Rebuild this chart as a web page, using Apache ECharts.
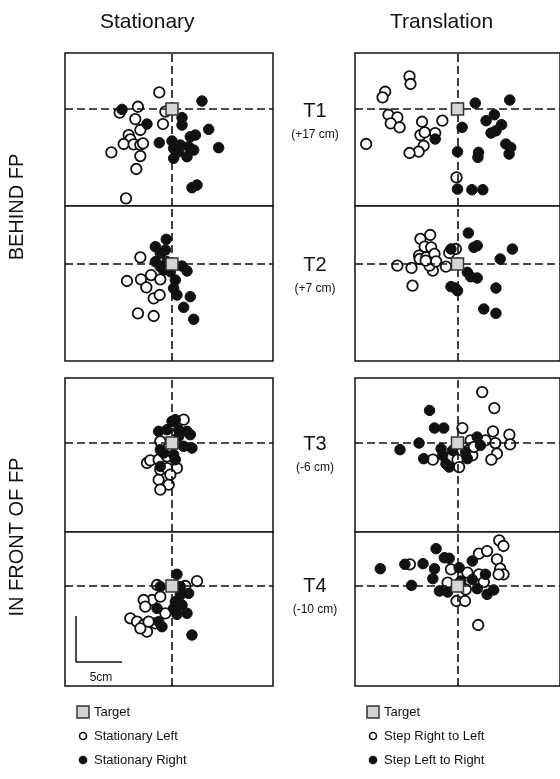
<!DOCTYPE html>
<html>
<head>
<meta charset="utf-8">
<script src="https://cdn.jsdelivr.net/npm/echarts@6/dist/echarts.min.js"></script>
<style>
  html, body { margin: 0; padding: 0; background: #fff; }
  #chart { width: 560px; height: 779px; }
</style>
</head>
<body>
<div id="chart"></div>
<script>
// endpoint positions in cm, relative to the target (x: right, y: further away)
const rowLabels = ['T1', 'T2', 'T3', 'T4']
const rowDistances = ['(+17 cm)', '(+7 cm)', '(-6 cm)', '(-10 cm)']

const t1StationaryLeft = [[-1.38,1.81],[-3.70,0.25],[-5.69,-0.40],[-3.99,-1.09],[-3.44,-2.28],[-0.98,-1.63],[-4.71,-2.83],[-4.53,-3.30],[-5.25,-3.80],[-4.17,-3.84],[-3.44,-3.91],[-3.15,-3.73],[-6.59,-4.71],[-3.44,-5.11],[-3.88,-6.52],[-5.00,-9.71],[-0.72,-0.29]]
const t1StationaryRight = [[-5.43,-0.04],[3.26,0.87],[-2.72,-1.63],[1.09,-0.94],[1.09,-1.74],[3.99,-2.21],[-1.38,-3.66],[0.00,-3.48],[1.99,-3.01],[2.54,-2.83],[0.18,-4.28],[0.91,-3.91],[1.81,-4.09],[2.36,-4.46],[5.07,-4.20],[0.18,-5.36],[1.63,-5.18],[2.17,-8.55],[2.72,-8.26],[0.72,-4.64]]
const t2StationaryLeft = [[-3.44,0.72],[-4.89,-1.85],[-3.37,-1.67],[-2.79,-2.54],[-2.28,-1.20],[-1.27,-1.67],[-1.99,-3.73],[-1.34,-3.37],[-3.70,-5.36],[-1.99,-5.65]]
const t2StationaryRight = [[-0.62,2.68],[-1.81,1.88],[-1.27,1.16],[-0.72,1.52],[-1.81,0.25],[-1.27,-0.29],[-0.54,0.25],[1.09,-0.22],[1.63,-0.76],[0.36,-1.74],[0.18,-2.64],[0.54,-3.37],[1.99,-3.55],[1.27,-4.71],[2.36,-6.01],[-0.18,-0.83],[-0.91,-0.65]]
const t3StationaryLeft = [[1.27,2.54],[-1.27,0.18],[-2.72,-2.17],[-2.36,-1.88],[-1.45,-1.81],[-0.54,-1.45],[0.54,-2.72],[-1.27,-2.90],[-0.54,-2.72],[-1.45,-3.99],[-0.36,-4.53],[-1.27,-5.07],[-0.18,-3.44]]
const t3StationaryRight = [[0.00,2.36],[0.36,2.54],[-1.45,1.27],[-0.54,1.45],[0.72,1.45],[1.63,1.27],[1.99,0.91],[2.17,-0.54],[1.27,-0.36],[-1.27,-0.72],[-0.91,-1.09],[0.18,-1.27],[-1.27,-2.54],[0.36,-1.81],[0.72,0.72]]
const t4StationaryLeft = [[2.72,0.54],[-1.63,0.11],[1.45,0.00],[-2.17,-1.52],[-3.08,-1.52],[-2.90,-2.25],[-1.27,-1.16],[-4.53,-3.51],[-3.80,-3.88],[-3.08,-4.24],[-2.72,-4.96],[-1.81,-4.06],[-0.72,-2.97],[-3.44,-4.60],[-2.54,-3.88]]
const t4StationaryRight = [[0.54,1.27],[-1.27,-0.07],[0.91,-0.07],[1.81,-0.80],[0.91,-0.98],[0.36,-1.70],[1.09,-2.07],[1.63,-2.97],[0.54,-3.08],[-1.63,-2.43],[-1.09,-4.42],[-1.45,-3.88],[2.17,-5.33],[0.18,-2.43]]

const t1StepRightToLeft = [[-5.29,3.55],[-5.18,2.72],[-7.97,1.88],[-8.26,1.27],[-7.61,-0.62],[-6.63,-0.91],[-7.36,-1.56],[-6.38,-1.99],[-3.91,-1.38],[-1.67,-1.27],[-4.09,-2.83],[-2.46,-2.61],[-3.62,-2.54],[-3.73,-3.99],[-4.28,-4.64],[-5.29,-4.78],[-10.07,-3.80],[-0.11,-7.43]]
const t1StepLeftToRight = [[1.96,0.65],[5.76,0.98],[0.51,-1.99],[3.15,-1.27],[4.06,-0.62],[4.86,-1.70],[3.70,-2.61],[4.24,-2.36],[-2.46,-3.26],[5.33,-3.80],[5.87,-4.17],[5.69,-4.89],[2.32,-4.71],[2.25,-5.25],[0.00,-4.64],[0.00,-8.70],[1.59,-8.77],[2.79,-8.77]]
const t2StepRightToLeft = [[-3.01,3.15],[-4.09,2.72],[-3.62,1.88],[-2.90,1.81],[-4.24,0.91],[-4.17,0.54],[-3.44,0.72],[-2.54,1.09],[-3.08,0.18],[-2.72,-0.72],[-3.08,-0.18],[-0.91,1.20],[-0.18,1.63],[-1.27,-0.29],[-5.07,-0.43],[-6.63,-0.18],[-4.96,-2.36],[-2.36,0.29],[-3.51,0.36]]
const t2StepLeftToRight = [[1.20,3.37],[1.81,1.81],[2.17,1.99],[6.05,1.63],[4.71,0.54],[-0.72,1.63],[1.09,-0.91],[1.45,-1.38],[2.17,-1.52],[4.24,-2.61],[-0.72,-2.46],[0.00,-2.90],[-0.25,-2.61],[2.90,-4.89],[4.24,-5.36]]
const t3StepRightToLeft = [[2.72,5.54],[4.06,3.80],[0.54,1.63],[3.91,1.27],[5.72,0.91],[5.80,-0.14],[4.17,0.00],[4.35,-1.16],[3.73,-1.81],[3.08,0.29],[1.45,0.29],[1.20,-0.80],[1.63,-1.34],[-2.72,-1.81],[-0.72,-1.59],[0.00,-1.81],[0.18,-2.61],[1.81,-0.43]]
const t3StepLeftToRight = [[-3.08,3.55],[-2.54,1.63],[-1.52,1.63],[-6.34,-0.72],[-4.24,0.00],[-3.73,-1.70],[-1.81,-0.62],[-1.63,-1.34],[-1.27,-2.25],[-0.91,-2.61],[2.17,0.65],[2.54,-0.25],[0.91,-0.98],[1.09,-1.70],[-0.54,-0.80]]
const t4StepRightToLeft = [[4.60,4.96],[5.07,4.35],[2.36,3.51],[3.26,3.80],[4.35,2.90],[4.71,1.88],[5.07,1.27],[4.53,1.27],[2.36,1.27],[1.09,1.45],[-0.72,1.81],[-5.25,2.36],[-1.09,0.36],[2.90,0.43],[0.91,-0.36],[-0.11,-1.63],[0.83,-1.63],[2.28,-4.24]]
const t4StepLeftToRight = [[-8.51,1.88],[-5.80,2.36],[-3.80,2.43],[-2.36,4.06],[-1.45,3.08],[-0.91,3.01],[-2.54,1.88],[-2.72,0.80],[-5.07,0.07],[0.18,1.99],[1.63,2.72],[1.63,0.72],[3.08,1.27],[-1.99,-0.54],[-1.09,-0.65],[3.26,-0.91],[3.99,-0.43],[0.36,0.54],[2.17,-0.29]]

const target = [[0, 0]]
const scaleBar = [[-10.43, -3.26], [-10.43, -8.26], [-5.43, -8.26]]

const openSets = [t1StationaryLeft, t2StationaryLeft, t3StationaryLeft, t4StationaryLeft,
  t1StepRightToLeft, t2StepRightToLeft, t3StepRightToLeft, t4StepRightToLeft]
const filledSets = [t1StationaryRight, t2StationaryRight, t3StationaryRight, t4StationaryRight,
  t1StepLeftToRight, t2StepLeftToRight, t3StepLeftToRight, t4StepLeftToRight]

// layout (px) and axis ranges (cm, 9.2 px per cm)
const colLeft = [65, 355]
const colX = [[-11.63, 10.98], [-11.3, 11.3]]
const rowTop = [53, 206, 378, 532]
const rowHeight = [153, 155, 154, 154]
const rowY = [[-10.54, 6.09], [-10.54, 6.3], [-9.67, 7.07], [-10.87, 5.87]]

const FONT = '"Liberation Sans", Arial, Helvetica, sans-serif'

const grids = [], xAxes = [], yAxes = [], series = []
for (let c = 0; c < 2; c++) {
  for (let r = 0; r < 4; r++) {
    const i = c * 4 + r
    grids.push({
      left: colLeft[c], top: rowTop[r], width: 208, height: rowHeight[r],
      show: true, borderColor: '#111', borderWidth: 1.5, backgroundColor: '#fff'
    })
    xAxes.push({ gridIndex: i, type: 'value', min: colX[c][0], max: colX[c][1], show: false })
    yAxes.push({ gridIndex: i, type: 'value', min: rowY[r][0], max: rowY[r][1], show: false })

    // dashed crosshair through the target
    series.push({
      type: 'line', xAxisIndex: i, yAxisIndex: i, data: [], z: 1, silent: true,
      markLine: {
        silent: true, symbol: ['none', 'none'], animation: false,
        label: { show: false },
        lineStyle: { color: '#111', width: 1.6, type: [8, 4] },
        data: [{ xAxis: 0 }, { yAxis: 0 }]
      }
    })
    series.push({
      type: 'scatter', xAxisIndex: i, yAxisIndex: i, z: 3,
      data: openSets[i], symbol: 'circle', symbolSize: 10.5,
      itemStyle: { color: '#fff', borderColor: '#111', borderWidth: 1.8, opacity: 1 }
    })
    series.push({
      type: 'scatter', xAxisIndex: i, yAxisIndex: i, z: 4,
      data: filledSets[i], symbol: 'circle', symbolSize: 10.5,
      itemStyle: { color: '#111', borderColor: '#111', borderWidth: 1, opacity: 1 }
    })
    series.push({
      type: 'scatter', xAxisIndex: i, yAxisIndex: i, z: 5,
      data: target, symbol: 'rect', symbolSize: 12,
      itemStyle: { color: '#d4d4d4', borderColor: '#333', borderWidth: 1.5, opacity: 1 }
    })
  }
}

// 5 cm scale bar in the T4 stationary panel
series.push({
  type: 'line', xAxisIndex: 3, yAxisIndex: 3, data: scaleBar, z: 6,
  symbol: 'none', lineStyle: { color: '#111', width: 1.5 }, silent: true
})

const graphics = [
  { type: 'text', left: 100, top: 12, style: { text: 'Stationary', font: '21px ' + FONT, fill: '#111' } },
  { type: 'text', left: 390, top: 12, style: { text: 'Translation', font: '21px ' + FONT, fill: '#111' } },
  { type: 'text', x: 17, y: 207, rotation: Math.PI / 2,
    style: { text: 'BEHIND FP', font: '20px ' + FONT, fill: '#111', align: 'center', verticalAlign: 'middle' } },
  { type: 'text', x: 17, y: 537, rotation: Math.PI / 2,
    style: { text: 'IN FRONT OF FP', font: '20px ' + FONT, fill: '#111', align: 'center', verticalAlign: 'middle' } },
  { type: 'text', x: 101, y: 678,
    style: { text: '5cm', font: '12px ' + FONT, fill: '#111', align: 'center', verticalAlign: 'middle' } }
]

const labelY = [111, 265, 444, 586]
rowLabels.forEach((t, r) => {
  graphics.push({ type: 'text', x: 315, y: labelY[r],
    style: { text: t, font: '20px ' + FONT, fill: '#111', align: 'center', verticalAlign: 'middle' } })
  graphics.push({ type: 'text', x: 315, y: labelY[r] + 24,
    style: { text: rowDistances[r], font: '12px ' + FONT, fill: '#111', align: 'center', verticalAlign: 'middle' } })
})

// legends under each column
const legendCols = [
  { x: 83, names: ['Target', 'Stationary Left', 'Stationary Right'] },
  { x: 373, names: ['Target', 'Step Right to Left', 'Step Left to Right'] }
]
legendCols.forEach(col => {
  const ys = [712, 736, 760]
  graphics.push({ type: 'rect', shape: { x: col.x - 6, y: ys[0] - 6, width: 12, height: 12 },
    style: { fill: '#d4d4d4', stroke: '#333', lineWidth: 1.5 } })
  graphics.push({ type: 'circle', shape: { cx: col.x, cy: ys[1], r: 3.5 },
    style: { fill: '#fff', stroke: '#111', lineWidth: 1.6 } })
  graphics.push({ type: 'circle', shape: { cx: col.x, cy: ys[2], r: 4.3 },
    style: { fill: '#111' } })
  col.names.forEach((n, k) => {
    graphics.push({ type: 'text', x: col.x + 11, y: ys[k],
      style: { text: n, font: '13px ' + FONT, fill: '#111', verticalAlign: 'middle' } })
  })
})

const chart = echarts.init(document.getElementById('chart'))
chart.setOption({
  animation: false,
  grid: grids,
  xAxis: xAxes,
  yAxis: yAxes,
  series: series,
  graphic: graphics
})
</script>
</body>
</html>
